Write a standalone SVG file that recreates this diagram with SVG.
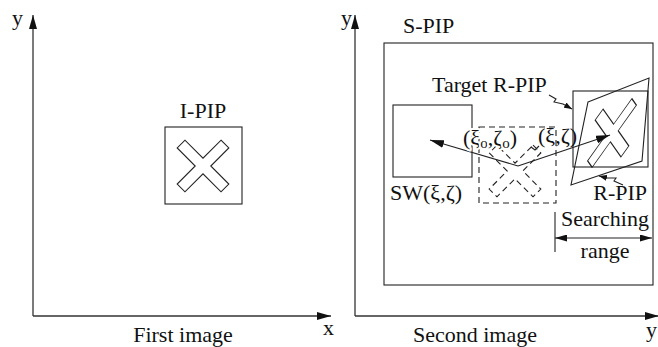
<svg xmlns="http://www.w3.org/2000/svg" width="658" height="347" viewBox="0 0 658 347">
<style>
text{font-family:"Liberation Serif","Times New Roman",serif;font-size:22px;fill:#111}
.ln{fill:none;stroke:#222;stroke-width:1.1}
.ax{fill:none;stroke:#333;stroke-width:1.3}
.ds{fill:none;stroke:#222;stroke-width:1.1;stroke-dasharray:6,4}
.halo{paint-order:stroke;stroke:#fff;stroke-width:4;stroke-linejoin:round}
</style>
<defs>
<marker id="ah" viewBox="0 0 14 8" refX="14" refY="4" markerWidth="14" markerHeight="8" markerUnits="userSpaceOnUse" orient="auto">
<path d="M0,0 L14,4 L0,8 Z" fill="#111"/>
</marker>
<marker id="ahs" viewBox="0 0 12 7" refX="12" refY="3.5" markerWidth="12" markerHeight="7" markerUnits="userSpaceOnUse" orient="auto-start-reverse">
<path d="M0,0 L12,3.5 L0,7 Z" fill="#111"/>
</marker>
<marker id="lh" viewBox="0 0 8 6" refX="8" refY="3" markerWidth="8" markerHeight="6" markerUnits="userSpaceOnUse" orient="auto">
<path d="M0,0 L8,3 L0,6 Z" fill="#111"/>
</marker>
<polygon id="cross" points="-5.5,-31 5.5,-31 5.5,-5.5 31,-5.5 31,5.5 5.5,5.5 5.5,31 -5.5,31 -5.5,5.5 -31,5.5 -31,-5.5 -5.5,-5.5"/>
</defs>

<g id="axes">
<path class="ax" d="M33,316 L33,15" marker-end="url(#ah)"/>
<path class="ax" d="M33,316 L331,316" marker-end="url(#ah)"/>
<path class="ax" d="M355,316 L355,15" marker-end="url(#ah)"/>
<path class="ax" d="M355,316 L659,316" marker-end="url(#ah)"/>
<text x="12" y="25">y</text>
<text x="323" y="335">x</text>
<text x="341" y="25">y</text>
<text x="646" y="337">y</text>
<text x="183" y="342" text-anchor="middle">First image</text>
<text x="475" y="342" text-anchor="middle">Second image</text>
</g>

<g id="ipip">
<rect class="ln" x="165" y="127" width="77" height="77"/>
<use href="#cross" class="ln" transform="translate(203,166) rotate(45)"/>
<text x="203" y="118" text-anchor="middle">I-PIP</text>
</g>

<g id="spip">
<rect class="ln" x="384" y="43" width="269" height="242"/>
<text x="403" y="33">S-PIP</text>
</g>

<g id="sw">
<rect class="ln" x="393" y="105" width="79" height="72"/>
<text x="390" y="200">SW(ξ,ζ)</text>
</g>

<g id="orig">
<rect class="ds" x="479" y="127" width="77" height="76"/>
<use href="#cross" class="ds" transform="translate(515,171) rotate(45)"/>
</g>

<g id="target">
<rect class="ln" x="573" y="91" width="75" height="76"/>
<text x="432" y="92">Target R-PIP</text>
</g>

<g id="rpip">
<polygon class="ln" points="588,102 649,78 642,161 571,185"/>
<use href="#cross" class="ln" transform="matrix(0.8,-0.29,-0.21,1.13,612,133) rotate(45)"/>
<text x="647" y="200" text-anchor="end">R-PIP</text>
</g>

<g id="connectors">
<path class="ln" d="M518,166 L430,140" marker-end="url(#ah)"/>
<path class="ln" d="M518,166 L610,135" marker-end="url(#ah)"/>
<path class="ln" d="M549,95 L556,99 L554,102 L563,104 L572,109" marker-end="url(#lh)"/>
<path class="ln" d="M623,185 L614,181 L616,178 L607,178 L599,176" marker-end="url(#lh)"/>
<path class="ln" d="M555,212 L555,252"/>
<path class="ln" d="M555,238 L652,238" marker-start="url(#ahs)" marker-end="url(#ahs)"/>
<path class="ln" d="M531,147 L535,150 L539,146"/>
</g>

<g id="labels">
<text class="halo" x="463" y="145">(ξ<tspan font-size="15" dy="3">o</tspan><tspan dy="-3">,ζ</tspan><tspan font-size="15" dy="3">o</tspan><tspan dy="-3">)</tspan></text>
<text x="538" y="143">(ξ,ζ)</text>
<text x="561" y="226">Searching</text>
<text x="605" y="258" text-anchor="middle">range</text>
</g>
</svg>
